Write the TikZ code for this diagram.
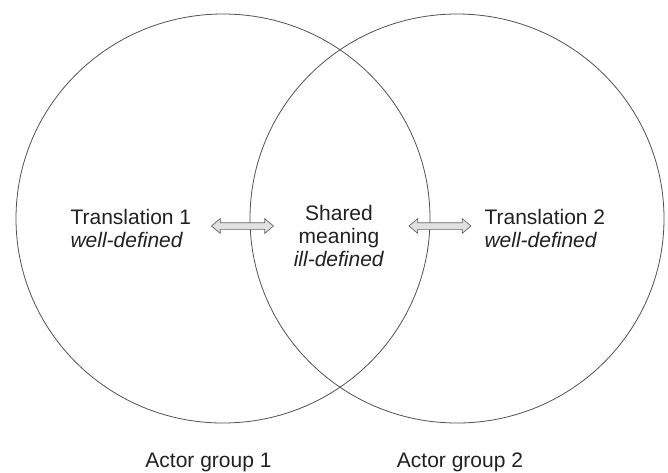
\documentclass[tikz,border=0pt]{standalone}
\usepackage{fontspec}
\setmainfont{Liberation Sans}
\usetikzlibrary{shapes.geometric,shapes.arrows}
\tikzset{
  group/.style={ellipse,draw=black!68,line width=0.8pt,minimum width=414pt,minimum height=409pt,inner sep=0pt},
  swaparrow/.style={double arrow,draw=black!60,fill=black!12,line width=0.7pt,inner xsep=0pt,inner ysep=3pt,
    minimum height=62pt,minimum width=14pt,double arrow head extend=4pt,double arrow tip angle=80},
}
\begin{document}
\begin{tikzpicture}[x=1pt,y=-1pt,font=\fontsize{21}{23}\selectfont,text=black!87]
\useasboundingbox (0,0) rectangle (668,472);
\fill[white] (0,0) rectangle (668,472);
\node[group] (g1) at (223,218.5) {};
\node[group] (g2) at (457,218.5) {};
\node[anchor=base west,align=left] (t1) at (67,247) {Translation 1\\\textit{well-defined}};
\node[anchor=base,align=center] (shared) at (339,266.6) {Shared\\meaning\\\textit{ill-defined}};
\node[anchor=base west,align=left] (t2) at (481,247) {Translation 2\\\textit{well-defined}};
\node[anchor=base] (a1) at (208.5,467) {Actor group 1};
\node[anchor=base] (a2) at (460,467) {Actor group 2};
\path (t1.east) -- (t1.east -| shared.west) node[pos=0.5,yshift=2pt,swaparrow] (s1) {};
\path (t2.west -| shared.east) -- (t2.west) node[pos=0.56,yshift=2pt,swaparrow] (s2) {};
\end{tikzpicture}
\end{document}
